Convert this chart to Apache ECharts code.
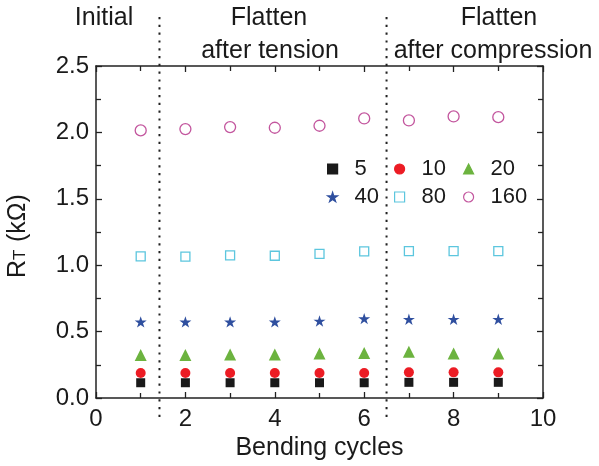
<!DOCTYPE html>
<html><head><meta charset="utf-8">
<script src="https://cdn.jsdelivr.net/npm/echarts@6/dist/echarts.min.js"></script>
<style>html,body{margin:0;padding:0;background:#fff}#c{width:599px;height:466px}</style>
</head><body><div id="c"></div>
<script>
// ---- data ----
const cycles = [1, 2, 3, 4, 5, 6, 7, 8, 9];
const r5   = [0.115, 0.115, 0.115, 0.115, 0.115, 0.115, 0.118, 0.118, 0.118];
const r10  = [0.188, 0.188, 0.188, 0.188, 0.188, 0.188, 0.193, 0.193, 0.193];
const r20  = [0.323, 0.323, 0.328, 0.328, 0.336, 0.338, 0.348, 0.336, 0.336];
const r40  = [0.573, 0.573, 0.573, 0.573, 0.580, 0.598, 0.593, 0.593, 0.593];
const r80  = [1.066, 1.064, 1.074, 1.071, 1.086, 1.104, 1.106, 1.106, 1.106];
const r160 = [2.015, 2.025, 2.040, 2.035, 2.050, 2.105, 2.090, 2.120, 2.115];
const seriesNames = ['5', '10', '20', '40', '80', '160'];
const seriesValues = [r5, r10, r20, r40, r80, r160];
const xRange = [0, 10], xStep = 2;
const yRange = [0, 2.5], yStep = 0.5;
const dividers = [1.42, 6.5];
const sectionTitles = [['Initial'], ['Flatten', 'after tension'], ['Flatten', 'after compression']];
const xTitle = 'Bending cycles';

// ---- styles ----
const FONT = 'Liberation Sans, Arial, sans-serif';
const TXT = '#1a1a1a';
const STAR = 'path://M100,0 L122.45,69.1 L195.1,69.1 L136.3,111.8 L158.8,180.9 L100,138.2 L41.2,180.9 L63.7,111.8 L4.9,69.1 L77.55,69.1 Z';
const styles = [
  {symbol: 'rect', size: 9, color: '#1a1a1a', fill: true},
  {symbol: 'circle', size: 10, color: '#ec1c24', fill: true},
  {symbol: 'triangle', size: 12, color: '#6cb33f', fill: true},
  {symbol: STAR, size: 12, color: '#2f4f9f', fill: true},
  {symbol: 'rect', size: 9, color: '#5cc6de', fill: false},
  {symbol: 'circle', size: 11, color: '#c3569e', fill: false}
];

const chart = echarts.init(document.getElementById('c'), null, {renderer: 'canvas'});
const series = seriesNames.map((n, i) => ({
  name: n, type: 'scatter', xAxisIndex: 0, yAxisIndex: 0,
  symbol: styles[i].symbol, symbolSize: styles[i].size, symbolKeepAspect: true,
  itemStyle: styles[i].fill
    ? {color: styles[i].color, borderColor: styles[i].color, borderWidth: 0, opacity: 1}
    : {color: 'rgba(255,255,255,0)', borderColor: styles[i].color, borderWidth: 1.3, opacity: 1},
  emphasis: {disabled: true},
  data: cycles.map((c, k) => [c, seriesValues[i][k]])
}));

const axisLine = {show: true, onZero: false, lineStyle: {color: '#222', width: 1.5}};
const tick = {show: true, inside: true, length: 6, lineStyle: {color: '#222', width: 1.3}};
const minor = {show: true, splitNumber: 2, length: 5, lineStyle: {color: '#222', width: 1.3}};
const lbl = {color: TXT, fontSize: 24, fontFamily: FONT};

const legendCols = [[0, 3], [1, 4], [2, 5]];
const legendLeft = [327, 394, 463];
const legends = legendCols.map((col, j) => ({
  orient: 'vertical', left: legendLeft[j], top: 158, padding: 0,
  itemWidth: 10, itemHeight: 10, itemGap: 6,
  selectedMode: false,
  data: col.map(k => seriesNames[k]),
  itemStyle: {borderWidth: 1.2},
  textStyle: {color: TXT, fontSize: 22, fontFamily: FONT, lineHeight: 22, padding: [0, 0, 0, 12]}
}));

chart.setOption({
  animation: false,
  backgroundColor: '#fff',
  grid: {left: 96, right: 56, top: 66, bottom: 68, containLabel: false},
  xAxis: [
    {type: 'value', position: 'bottom', min: xRange[0], max: xRange[1], interval: xStep,
     axisLine, axisTick: tick, minorTick: minor, splitLine: {show: false},
     axisLabel: Object.assign({margin: 9, showMaxLabel: true}, lbl),
     name: xTitle, nameLocation: 'middle', nameGap: 36,
     nameTextStyle: {color: TXT, fontSize: 25, fontFamily: FONT}},
    {type: 'value', position: 'top', min: xRange[0], max: xRange[1], interval: xStep,
     axisLine, axisTick: tick, minorTick: minor, splitLine: {show: false}, axisLabel: {show: false}}
  ],
  yAxis: [
    {type: 'value', position: 'left', min: yRange[0], max: yRange[1], interval: yStep,
     axisLine, axisTick: tick, minorTick: minor, splitLine: {show: false},
     axisLabel: Object.assign({margin: 7, formatter: v => v.toFixed(1)}, lbl)},
    {type: 'value', position: 'right', min: yRange[0], max: yRange[1], interval: yStep,
     axisLine, axisTick: tick, minorTick: minor, splitLine: {show: false}, axisLabel: {show: false}}
  ],
  legend: legends,
  series
});

// dividers and section titles, positioned via the axis scale
const gTop = 17, gBottom = 418;
const divX = dividers.map(d => chart.convertToPixel({xAxisIndex: 0}, d));
const titleCenters = [104, 269, 496];
const graphics = [];
divX.forEach(x => graphics.push({
  type: 'line', silent: true,
  shape: {x1: x, y1: gTop, x2: x, y2: gBottom},
  style: {stroke: '#222', lineWidth: 2, lineDash: [2.2, 5.6]}
}));
const lineY = [18.5, 51];
const titleX = [[104], [269, 270], [499, 493]];
sectionTitles.forEach((lines, i) => lines.forEach((t, k) => graphics.push({
  type: 'text', silent: true, x: titleX[i][k], y: lineY[k],
  style: {text: t, fill: TXT, font: '25px ' + FONT, textAlign: 'center', textVerticalAlign: 'middle', align: 'center', verticalAlign: 'middle'}
})));
// Y axis title  R_T (kΩ)
graphics.push({
  type: 'group', x: 18, y: 278, rotation: Math.PI / 2, silent: true,
  children: [
    {type: 'text', x: 0, y: 0, style: {text: 'R', fill: TXT, font: '25px ' + FONT, align: 'left', verticalAlign: 'middle'}},
    {type: 'text', x: 18, y: 2, style: {text: 'T', fill: TXT, font: '17px ' + FONT, align: 'left', verticalAlign: 'middle'}},
    {type: 'text', x: 29, y: 0, style: {text: ' (kΩ)', fill: TXT, font: '25px ' + FONT, align: 'left', verticalAlign: 'middle'}}
  ]
});
chart.setOption({graphic: graphics});
</script>
</body></html>
